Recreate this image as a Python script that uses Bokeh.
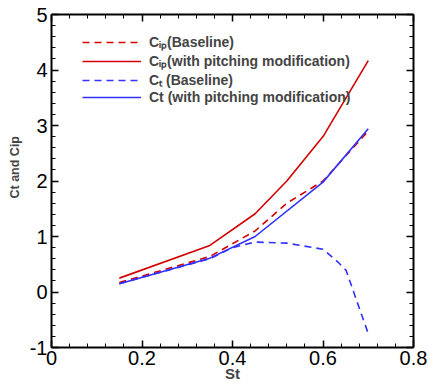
from bokeh.plotting import figure
from bokeh.models import (Range1d, LinearAxis, SingleIntervalTicker, Legend, LegendItem, Title)
from bokeh.embed import file_html
from bokeh.resources import INLINE

# Data
st_cip_base = [0.15, 0.35, 0.45, 0.52, 0.60, 0.70]
cip_base = [0.17, 0.64, 1.10, 1.60, 2.00, 2.90]

st_cip_pitch = [0.15, 0.35, 0.45, 0.52, 0.60, 0.70]
cip_pitch = [0.25, 0.84, 1.41, 2.00, 2.80, 4.17]

st_ct_base = [0.15, 0.35, 0.40, 0.45, 0.52, 0.60, 0.633, 0.651, 0.70]
ct_base = [0.15, 0.60, 0.80, 0.90, 0.88, 0.77, 0.54, 0.39, -0.75]

st_ct_pitch = [0.15, 0.35, 0.45, 0.60, 0.70]
ct_pitch = [0.15, 0.61, 1.00, 1.98, 2.94]

labels = ["C\u1d62\u209a(Baseline)",
          "C\u1d62\u209a(with pitching modification)",
          "C\u209c (Baseline)",
          "Ct (with pitching modification)"]
x_title = "St"
y_title = "Ct and Cip"

RED = "#d40000"
BLUE = "#3030ff"
FONT = "Liberation Sans"

p = figure(width=428, height=390, output_backend="svg", toolbar_location=None,
           x_range=Range1d(0, 0.8), y_range=Range1d(-1, 5),
           min_border_left=49, min_border_right=15, min_border_top=14, min_border_bottom=43,
           x_axis_label=x_title)
p.grid.visible = False
p.outline_line_color = None
p.background_fill_color = "white"
p.border_fill_color = "white"

r1 = p.line(st_cip_base, cip_base, line_color=RED, line_width=1.6, line_dash="7 5")
r2 = p.line(st_cip_pitch, cip_pitch, line_color=RED, line_width=1.6)
r3 = p.line(st_ct_base, ct_base, line_color=BLUE, line_width=1.6, line_dash="7 5")
r4 = p.line(st_ct_pitch, ct_pitch, line_color=BLUE, line_width=1.6)

def style_axis(ax, show_labels=True):
    ax.axis_line_width = 2
    ax.axis_line_color = "black"
    ax.major_tick_in = 7
    ax.major_tick_out = 0
    ax.minor_tick_in = 4
    ax.minor_tick_out = 0
    ax.major_tick_line_width = 1.5
    ax.minor_tick_line_width = 1
    ax.major_label_text_font = FONT
    ax.major_label_text_font_size = "20px" if show_labels else "1px"
    ax.major_label_text_color = "black" if show_labels else None
    ax.major_label_standoff = 3 if show_labels else 0

p.xaxis.ticker = SingleIntervalTicker(interval=0.2, num_minor_ticks=5)
p.yaxis.ticker = SingleIntervalTicker(interval=1, num_minor_ticks=5)
for ax in p.xaxis + p.yaxis:
    style_axis(ax)
p.yaxis.major_label_standoff = 4
p.yaxis.major_label_overrides = {-1: "-1"}
p.xaxis.axis_label_text_font = FONT
p.xaxis.axis_label_text_font_style = "bold"
p.xaxis.axis_label_text_font_size = "15px"
p.xaxis.axis_label_standoff = -3

top = LinearAxis(ticker=SingleIntervalTicker(interval=0.2, num_minor_ticks=5))
right = LinearAxis(ticker=SingleIntervalTicker(interval=1, num_minor_ticks=5))
for ax in (top, right):
    style_axis(ax, False)
p.add_layout(top, "above")
p.add_layout(right, "right")

p.add_layout(Title(text=y_title, align="left", offset=149,
                   text_font=FONT, text_font_style="bold", text_font_size="12.5px"), "left")

legend = Legend(items=[LegendItem(label=labels[0], renderers=[r1]),
                       LegendItem(label=labels[1], renderers=[r2]),
                       LegendItem(label=labels[2], renderers=[r3]),
                       LegendItem(label=labels[3], renderers=[r4])],
                location=(31, 242), padding=0, margin=0, spacing=-5,
                glyph_width=59, glyph_height=14, label_height=14,
                label_standoff=8, border_line_color=None,
                background_fill_alpha=0,
                label_text_font=FONT, label_text_font_style="bold",
                label_text_font_size="14px")
p.add_layout(legend, "center")

open("out.html", "w").write(file_html(p, INLINE))
